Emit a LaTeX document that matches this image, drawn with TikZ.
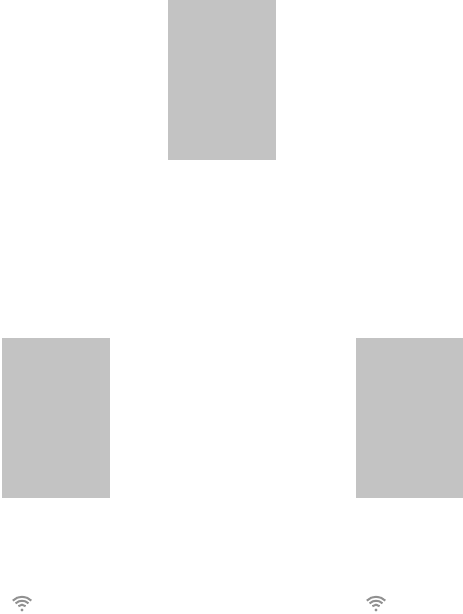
\documentclass[tikz,border=0pt]{standalone}
\definecolor{boxgray}{RGB}{195,195,195}
\definecolor{wifigray}{RGB}{145,145,145}
\tikzset{
  panel/.style={fill=boxgray,draw=none},
  wave/.style={draw=wifigray,line width=2pt,line cap=butt},
  wifi/.pic={
    \fill[wifigray] (0,0) circle (1.7pt);
    \draw[wave] (-3.6pt,3.8pt) arc (135:45:5.1pt);
    \draw[wave] (-6.4pt,6.6pt) arc (135:45:9.1pt);
    \draw[wave] (-9.2pt,9.4pt) arc (135:45:13.1pt);
  }
}
\begin{document}
\begin{tikzpicture}[x=1pt,y=-1pt]
\useasboundingbox (0,0) rectangle (463,614);
\fill[panel] (168,0) rectangle (276,160);
\fill[panel] (2,338) rectangle (110,498);
\fill[panel] (356,338) rectangle (463,498);
\pic at (22,610) {wifi};
\pic at (376,610) {wifi};
\end{tikzpicture}
\end{document}
